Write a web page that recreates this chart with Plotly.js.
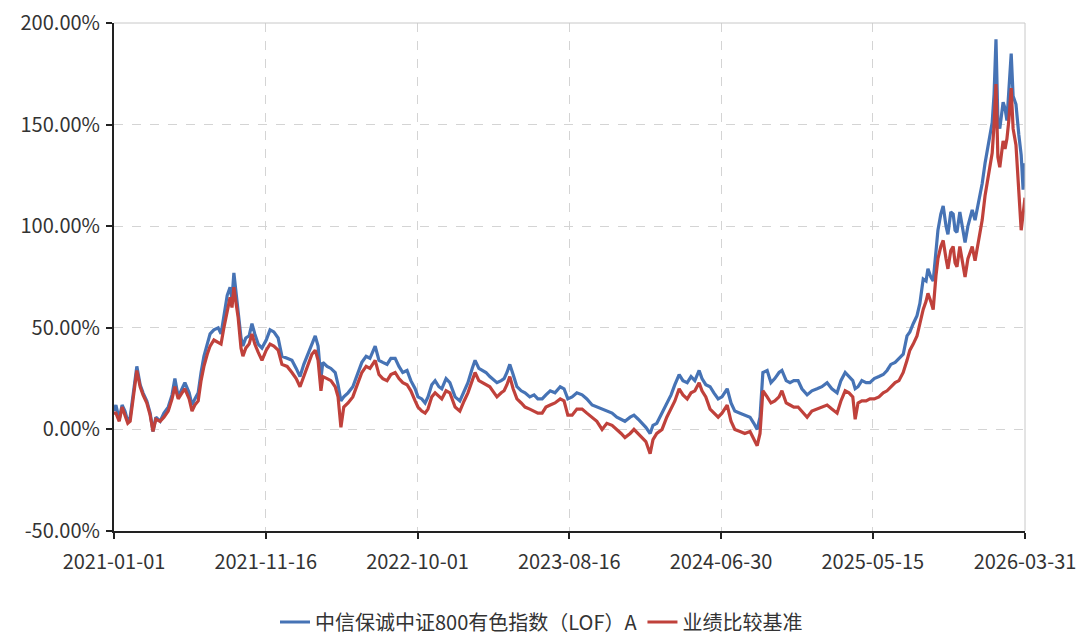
<!DOCTYPE html>
<html>
<head>
<meta charset="utf-8">
<script src="https://cdn.plot.ly/plotly-3.0.1.min.js"></script>
<style>html,body{margin:0;padding:0;background:#fff;}#chart{width:1083px;height:636px;}</style>
</head>
<body>
<div id="chart"></div>
<script>
const dates = [
"2021-01-01","2021-01-05","2021-01-12","2021-01-18","2021-01-24","2021-01-30","2021-02-04","2021-02-12","2021-02-18","2021-02-25",
"2021-03-03","2021-03-11","2021-03-18","2021-03-24","2021-03-30","2021-04-08","2021-04-16","2021-04-25","2021-05-03","2021-05-09",
"2021-05-16","2021-05-24","2021-05-30","2021-06-08","2021-06-14","2021-06-20","2021-06-27","2021-07-03","2021-07-09","2021-07-16",
"2021-07-22","2021-07-30","2021-08-08","2021-08-14","2021-08-20","2021-08-27","2021-09-02","2021-09-06","2021-09-10","2021-09-14",
"2021-09-19","2021-09-25","2021-09-29","2021-10-05","2021-10-12","2021-10-18","2021-10-24","2021-10-31","2021-11-08","2021-11-17",
"2021-11-25","2021-12-03","2021-12-12","2021-12-20","2021-12-31","2022-01-10","2022-01-19","2022-01-27","2022-02-04","2022-02-13",
"2022-02-21","2022-02-28","2022-03-06","2022-03-12","2022-03-16","2022-03-25","2022-04-02","2022-04-11","2022-04-17","2022-04-23",
"2022-04-29","2022-05-08","2022-05-18","2022-05-29","2022-06-06","2022-06-15","2022-06-23","2022-07-04","2022-07-12","2022-07-20",
"2022-07-29","2022-08-06","2022-08-15","2022-08-23","2022-08-31","2022-09-09","2022-09-17","2022-09-26","2022-10-02","2022-10-10",
"2022-10-17","2022-10-23","2022-10-31","2022-11-07","2022-11-15","2022-11-21","2022-11-30","2022-12-08","2022-12-19","2022-12-29",
"2023-01-07","2023-01-15","2023-01-24","2023-01-30","2023-02-07","2023-02-14","2023-02-22","2023-03-02","2023-03-11","2023-03-17",
"2023-03-26","2023-04-01","2023-04-07","2023-04-13","2023-04-20","2023-04-28","2023-05-07","2023-05-15","2023-05-25","2023-06-03",
"2023-06-11","2023-06-20","2023-06-28","2023-07-07","2023-07-17","2023-07-28","2023-08-05","2023-08-13","2023-08-22","2023-09-01",
"2023-09-12","2023-09-22","2023-10-03","2023-10-13","2023-10-24","2023-11-03","2023-11-14","2023-11-24","2023-12-03","2023-12-11",
"2023-12-22","2023-12-30","2024-01-08","2024-01-16","2024-01-24","2024-02-02","2024-02-08","2024-02-16","2024-02-27","2024-03-08",
"2024-03-17","2024-03-25","2024-04-03","2024-04-11","2024-04-20","2024-04-28","2024-05-06","2024-05-15","2024-05-21","2024-05-29",
"2024-06-07","2024-06-15","2024-06-24","2024-07-02","2024-07-13","2024-07-21","2024-07-29","2024-08-09","2024-08-19","2024-08-30",
"2024-09-07","2024-09-14","2024-09-20","2024-09-26","2024-10-05","2024-10-13","2024-10-21","2024-10-30","2024-11-05","2024-11-14",
"2024-11-22","2024-11-30","2024-12-09","2024-12-17","2024-12-28","2025-01-07","2025-01-18","2025-01-28","2025-02-08","2025-02-18",
"2025-03-01","2025-03-09","2025-03-18","2025-03-26","2025-04-03","2025-04-08","2025-04-14","2025-04-22","2025-05-01","2025-05-09",
"2025-05-18","2025-05-28","2025-06-06","2025-06-14","2025-06-22","2025-07-01","2025-07-09","2025-07-18","2025-07-26","2025-08-01",
"2025-08-08","2025-08-16","2025-08-22","2025-08-29","2025-09-04","2025-09-08","2025-09-14","2025-09-19","2025-09-25","2025-09-29",
"2025-10-05","2025-10-10","2025-10-16","2025-10-20","2025-10-26","2025-10-31","2025-11-04","2025-11-08","2025-11-14","2025-11-19",
"2025-11-25","2025-12-01","2025-12-10","2025-12-16","2025-12-22","2025-12-31","2026-01-06","2026-01-12","2026-01-21","2026-01-25",
"2026-01-29","2026-02-02","2026-02-06","2026-02-13","2026-02-17","2026-02-21","2026-02-25","2026-03-02","2026-03-06","2026-03-12",
"2026-03-18","2026-03-23","2026-03-27","2026-03-31"
];
const fund = [
9,12,5,12,9,4,6,20,31,22,
18,14,8,-1,6,4,8,11,17,25,
16,20,23,18,12,15,18,28,36,42,
47,49,50,47,55,66,70,64,77,68,
59,45,41,45,46,52,47,42,40,44,
49,48,45,36,35,34,30,26,32,37,
42,46,41,25,33,31,30,28,22,14,
16,18,21,28,33,36,35,41,34,33,
32,35,35,31,28,29,24,20,16,15,
13,16,22,24,21,20,25,23,16,14,
19,23,30,34,30,29,28,26,24,23,
24,25,28,32,27,21,19,18,16,17,
15,15,17,19,18,21,20,15,16,18,
17,15,12,11,10,9,8,6,5,4,
6,7,5,3,1,-2,2,3,8,13,
17,22,27,24,23,26,24,29,25,22,
21,18,15,16,20,13,9,8,7,6,
3,0,6,28,29,23,25,28,29,24,
23,24,24,20,17,19,20,21,23,20,
18,24,28,26,24,20,21,24,23,23,
25,26,27,29,32,33,35,37,46,48,
52,56,62,74,73,79,75,73,88,98,
106,110,100,96,107,106,98,97,107,100,
92,100,108,103,110,121,131,139,151,165,
192,152,148,161,158,152,165,185,164,160,
145,135,118,131
];
const bench = [
8,8,4,11,7,3,4,18,29,21,
17,13,7,-1,5,4,6,9,15,21,
15,18,20,15,9,12,14,24,31,37,
41,44,43,42,50,58,65,60,70,63,
55,40,36,40,42,47,42,38,34,39,
42,41,39,32,31,28,25,21,26,31,
37,39,34,19,26,25,24,21,16,1,
11,13,16,23,28,31,30,34,27,25,
24,27,28,25,23,22,19,14,11,9,
8,10,16,18,16,15,19,18,11,9,
14,18,24,28,24,23,22,21,18,16,
18,19,22,26,20,15,13,11,10,9,
8,8,11,12,13,15,14,7,7,10,
10,8,6,4,0,3,2,0,-2,-4,
-2,0,-2,-4,-6,-12,-5,-2,0,6,
10,14,20,17,15,18,19,23,19,16,
10,8,6,8,12,4,0,-1,-2,-1,
-5,-8,-2,19,16,13,14,16,19,13,
12,11,11,9,6,9,10,11,12,10,
8,14,19,18,16,5,13,14,14,15,
15,16,18,19,21,23,24,28,34,39,
42,46,52,59,63,67,63,59,76,84,
90,93,84,79,88,90,82,80,90,84,
75,84,90,83,92,103,115,124,136,150,
170,134,129,142,138,143,152,168,148,140,
118,98,106,114
];
const tickDates = ["2021-01-01","2021-11-16","2022-10-01","2023-08-16","2024-06-30","2025-05-15","2026-03-31"];
const yTicks = [-50,0,50,100,150,200];
const yTickLabels = ["-50.00%","0.00%","50.00%","100.00%","150.00%","200.00%"];
const seriesNames = ["中信保诚中证800有色指数（LOF）A","业绩比较基准"];

const font = '"Noto Sans CJK SC", "Noto Sans", sans-serif';
const traces = [
  {x: dates, y: fund, name: seriesNames[0], type: "scatter", mode: "lines",
   line: {color: "#4673b5", width: 3.2}},
  {x: dates, y: bench, name: seriesNames[1], type: "scatter", mode: "lines",
   line: {color: "#c0413b", width: 3.2}}
];
const layout = {
  width: 1083, height: 636,
  margin: {l: 114, r: 58, t: 23, b: 105, autoexpand: false},
  paper_bgcolor: "#fff", plot_bgcolor: "#fff",
  font: {family: font, size: 20, color: "#333"},
  showlegend: true,
  legend: {orientation: "h", xref: "container", x: 0.5, xanchor: "center", yref: "container", y: 0.022, yanchor: "middle",
           font: {size: 20, color: "#333"}, itemwidth: 30, tracegroupgap: 0},
  xaxis: {
    type: "date", range: ["2021-01-01", "2026-03-31"],
    tickvals: tickDates, ticktext: tickDates, automargin: false,
    showgrid: true, gridcolor: "#d4d4d4", griddash: "dash", gridwidth: 1,
    showline: true, linecolor: "#222", linewidth: 2,
    ticks: "outside", ticklen: 6, tickcolor: "#222", tickwidth: 2,
    ticklabelstandoff: 6,
    zeroline: false, tickfont: {size: 20, color: "#333"}
  },
  yaxis: {
    range: [-50, 200], tickvals: yTicks, ticktext: yTickLabels, automargin: false,
    showgrid: true, gridcolor: "#d4d4d4", griddash: "dash", gridwidth: 1,
    showline: true, linecolor: "#222", linewidth: 2,
    ticks: "outside", ticklen: 6, tickcolor: "#222", tickwidth: 2,
    ticklabelstandoff: 2,
    zeroline: false, tickfont: {size: 20, color: "#333"}
  },
  shapes: [
    {type: "line", xref: "paper", yref: "paper", x0: 0, x1: 1, y0: 1, y1: 1, line: {color: "#c8c8c8", width: 1}},
    {type: "line", xref: "paper", yref: "paper", x0: 1, x1: 1, y0: 0, y1: 1, line: {color: "#c8c8c8", width: 1}}
  ]
};
Plotly.newPlot("chart", traces, layout, {displayModeBar: false, staticPlot: true});
</script>
</body>
</html>
